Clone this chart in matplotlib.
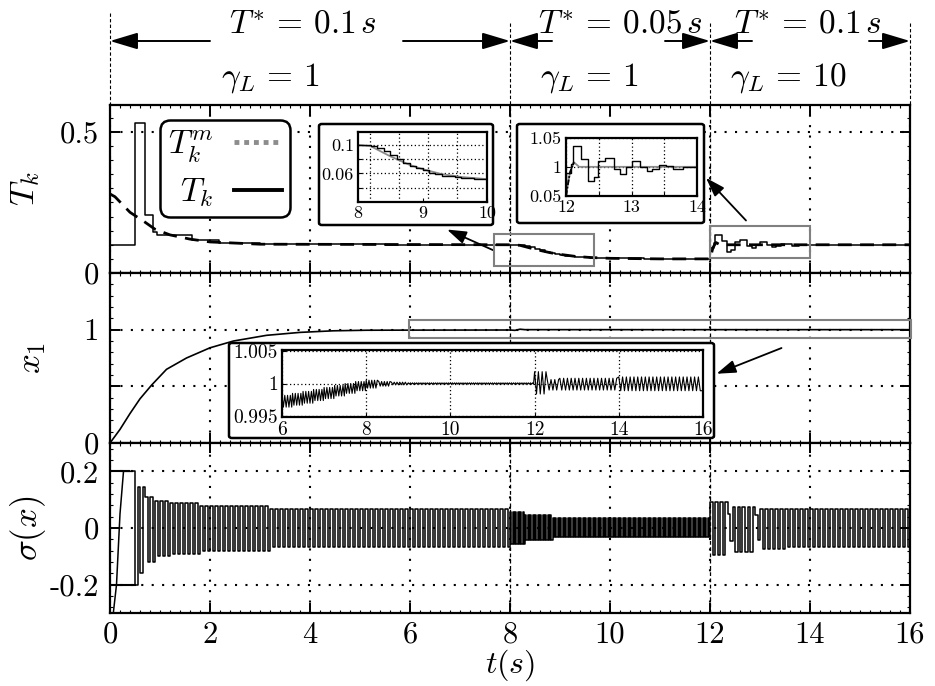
import numpy as np
import matplotlib.pyplot as plt
from matplotlib.lines import Line2D
from matplotlib.patches import FancyBboxPatch, Rectangle
from matplotlib.transforms import blended_transform_factory
from matplotlib.ticker import AutoMinorLocator

plt.rcParams['mathtext.fontset'] = 'cm'
plt.rcParams['font.family'] = 'serif'
plt.rcParams['font.serif'] = ['cmr10', 'DejaVu Serif']
plt.rcParams['axes.unicode_minus'] = False

# ---- data ----
# T_k (held samples) and T_k^m (model)
Tk_t = [0.0, 0.5, 0.7, 0.85, 0.93, 1.63, 2.17, 3.0, 5.5, 8.2, 8.3, 8.4, 8.5, 8.6, 8.7,
        8.8, 8.9, 9.0, 9.1, 9.2, 9.3, 9.4, 9.5, 9.6, 9.7, 9.8, 9.9, 10.0, 10.67,
        12.0, 12.07, 12.1, 12.23, 12.33, 12.42, 12.49, 12.6, 12.73, 12.83, 12.92,
        13.0, 13.13, 13.23, 13.32, 13.42, 13.52, 13.63, 13.78, 13.95, 16.0]
Tk_v = [0.1, 0.53, 0.205, 0.146, 0.134, 0.116, 0.107, 0.102, 0.1, 0.098, 0.096, 0.092,
        0.086, 0.08, 0.075, 0.071, 0.068, 0.065, 0.061, 0.059, 0.057, 0.056, 0.055,
        0.054, 0.053, 0.0526, 0.052, 0.0516, 0.05,
        0.0885, 0.1057, 0.1356, 0.1144, 0.0759, 0.0828, 0.110, 0.1155, 0.0954, 0.0868,
        0.1, 0.110, 0.1, 0.093, 0.097, 0.104, 0.101, 0.097, 0.1, 0.1, 0.1]
Tkm_t = [0.0, 0.1, 0.4, 0.7, 0.9, 1.2, 1.6, 2.0, 3.0, 8.0, 8.2, 8.5, 8.8, 9.0, 9.3,
         9.6, 10.0, 11.0, 12.0, 12.06, 12.12, 12.2, 16.0]
Tkm_v = [0.28, 0.27, 0.215, 0.18, 0.155, 0.135, 0.12, 0.11, 0.102, 0.1, 0.098, 0.084,
         0.072, 0.066, 0.059, 0.055, 0.052, 0.05, 0.05, 0.09, 0.108, 0.1, 0.1]

# x_1
x1_t = [0.0, 0.2, 0.4, 0.6, 0.83, 1.13, 1.53, 2.0, 2.47, 3.13, 3.8, 4.47, 5.13, 6.0,
        8.0, 8.1, 8.2, 8.3, 16.0]
x1_v = [0.0, 0.12, 0.26, 0.39, 0.51, 0.65, 0.75, 0.84, 0.90, 0.95, 0.976, 0.99, 0.995,
        0.996, 0.997, 0.994, 1.004, 1.0, 1.0]

# x_1 chattering seen in the zoom (segment edges, upper / lower levels, half period)
x1z_edges = [6.0, 6.25, 6.5, 6.75, 7.0, 7.25, 7.5, 7.75, 8.0, 8.3, 8.6, 9.0, 12.0,
             12.3, 12.6, 14.0, 16.0]
x1z_hi = [0.9982, 0.9985, 0.9988, 0.9991, 0.9994, 0.9997, 1.0000, 1.0003, 1.0005,
          1.0003, 1.0002, 1.0001, 1.0018, 1.0006, 1.0008, 1.0010]
x1z_lo = [0.9964, 0.9967, 0.9970, 0.9974, 0.9977, 0.9981, 0.9985, 0.9989, 0.9993,
          0.9996, 0.9998, 0.9999, 0.9984, 0.9990, 0.9990, 0.9989]
x1z_half = [0.033] * 11 + [0.025] + [0.045] * 4

# sigma(x): start transient, saturation holds, then switching band
sig0_t = [0.06, 0.13, 0.2, 0.27, 0.37, 0.45]
sig0_v = [-0.31, -0.2, 0.05, 0.2, 0.2, 0.2]
sig_sat_lv = [0.2, -0.2]
sig_sat_end = [0.37, 0.5]
sig_edges = [0.45, 0.55, 0.7, 0.9, 1.2, 1.8, 3.2, 8.0, 8.3, 8.85, 12.0, 12.35, 12.45,
             12.9, 13.0, 13.5, 16.0]
sig_hi = [0.2, 0.146, 0.11, 0.096, 0.087, 0.078, 0.068, 0.058, 0.046, 0.034, 0.093,
          0.05, 0.075, 0.045, 0.066, 0.066]
sig_lo = [-0.2, -0.16, -0.12, -0.1, -0.09, -0.08, -0.066, -0.056, -0.044, -0.03,
          -0.095, -0.045, -0.084, -0.042, -0.074, -0.066]
sig_half = [0.05] * 7 + [0.025] * 3 + [0.05] * 6

# regions: T*, gamma_L
reg_edges = [0, 8, 12, 16]
reg_T = [r'$T^{*}\,=\,0.1\,s$', r'$T^{*}\,=\,0.05\,s$', r'$T^{*}\,=\,0.1\,s$']
reg_g = [r'$\gamma_L\,=\,1$', r'$\gamma_L\,=\,1$', r'$\gamma_L\,=\,10$']
reg_T_x = [3.86, 10.2, 13.96]
reg_g_x = [3.2, 9.58, 13.56]
arr_tail = [(2.0, 5.86), (8.84, 11.1), (12.84, 15.18)]


def chatter(edges, hi, lo, half):
    tt, yy = [], []
    for k in range(len(hi)):
        n = max(1, int(round((edges[k + 1] - edges[k]) / half[k])))
        for j in range(n):
            tt.append(edges[k] + j * half[k])
            yy.append(hi[k] if j % 2 == 0 else lo[k])
    tt.append(edges[-1])
    yy.append(yy[-1])
    return np.array(tt), np.array(yy)


W, H = 935, 686


def box(x0, y0, x1, y1):
    return [x0 / W, 1 - y1 / H, (x1 - x0) / W, (y1 - y0) / H]


def fy(py):
    return 1 - py / H


fig = plt.figure(figsize=(9.35, 6.86), dpi=100)
ax1 = fig.add_axes(box(110, 105, 910, 273))
ax2 = fig.add_axes(box(110, 273, 910, 443))
ax3 = fig.add_axes(box(110, 443, 910, 613))

grid_kw = dict(color='k', linestyle=(0, (1, 4)), linewidth=1.5)
for ax in (ax1, ax2, ax3):
    ax.set_xlim(0, 16)
    ax.set_xticks(np.arange(0, 17, 2))
    ax.xaxis.set_minor_locator(AutoMinorLocator(10))
    ax.tick_params(which='major', direction='in', length=7, width=1.4, top=True,
                   right=True, labelsize=22, pad=8)
    ax.tick_params(which='minor', direction='in', length=2.5, width=0.8, top=True,
                   right=True)
    ax.grid(True, which='major', **grid_kw)
    for s in ax.spines.values():
        s.set_linewidth(1.6)
    for tv in reg_edges[1:3]:
        ax.axvline(tv, color='k', lw=0.9, dashes=(3, 2), zorder=1)

arr_small = dict(arrowstyle='-|>,head_length=0.9,head_width=0.3', color='k', lw=1.3,
                 mutation_scale=13, shrinkA=0, shrinkB=0)

# ---- panel 1 ----
ax1.plot(Tkm_t, Tkm_v, color='k', lw=2.0, dashes=(5, 3))
ax1.plot(Tk_t, Tk_v, color='k', lw=1.1, drawstyle='steps-post')
ax1.set_ylim(0, 0.595)
ax1.set_yticks([0, 0.5])
ax1.set_yticklabels(['0', '0.5'])
ax1.yaxis.set_minor_locator(AutoMinorLocator(10))
ax1.set_xticklabels([])
ax1.set_ylabel(r'$T_k$', fontsize=25)
ax1.yaxis.set_label_coords(-0.085, 0.5)
ax1.add_patch(Rectangle((7.68, 0.025), 2.0, 0.112, fill=False, ec='0.5', lw=1.5, zorder=4))
ax1.add_patch(Rectangle((12.0, 0.054), 2.0, 0.113, fill=False, ec='0.5', lw=1.5, zorder=4))
ax1.annotate('', xy=(6.74, 0.154), xytext=(7.66, 0.081), arrowprops=arr_small)
ax1.annotate('', xy=(11.92, 0.337), xytext=(12.72, 0.186), annotation_clip=False,
             arrowprops=arr_small)

leg_h = [Line2D([], [], color='0.55', lw=3.5, dashes=(1, 1)),
         Line2D([], [], color='k', lw=2.8)]
leg = ax1.legend(leg_h, [r'$T_k^m$', r'$T_k$'], loc='upper left',
                 bbox_to_anchor=(160 / W, fy(120)), bbox_transform=fig.transFigure,
                 borderaxespad=0, markerfirst=False, fontsize=24, handlelength=1.45,
                 handletextpad=0.6, labelspacing=0.35, borderpad=0.25, fancybox=True,
                 framealpha=1, edgecolor='k')
leg.get_frame().set_linewidth(1.8)
leg.get_frame().set_boxstyle('round,pad=0,rounding_size=0.3')

# ---- panel 2 ----
ax2.plot(x1_t, x1_v, color='k', lw=1.2)
ax2.set_ylim(0, 1.5)
ax2.set_yticks([0, 0.5, 1])
ax2.set_yticklabels(['0', '', '1'])
ax2.yaxis.set_minor_locator(AutoMinorLocator(5))
ax2.set_xticklabels([])
ax2.set_ylabel(r'$x_1$', fontsize=25)
ax2.yaxis.set_label_coords(-0.078, 0.5)
ax2.add_patch(Rectangle((5.97, 0.925), 10.05, 0.16, fill=False, ec='0.5', lw=1.5,
                        zorder=4, clip_on=False))
ax2.annotate('', xy=(12.13, 0.611), xytext=(13.43, 0.838), arrowprops=arr_small)

# ---- panel 3 ----
st, sv = chatter(sig_edges, sig_hi, sig_lo, sig_half)
ax3.plot(st, sv, color='k', lw=1.1, drawstyle='steps-post')
ax3.plot(sig0_t, sig0_v, color='k', lw=1.1)
for lv, te in zip(sig_sat_lv, sig_sat_end):
    ax3.plot([0, te], [lv, lv], color='k', lw=1.5, zorder=3)
ax3.set_ylim(-0.3, 0.3)
ax3.set_yticks([-0.2, 0, 0.2])
ax3.set_yticklabels(['-0.2', '0', '0.2'])
ax3.yaxis.set_minor_locator(AutoMinorLocator(5))
ax3.set_xticklabels([str(v) for v in range(0, 17, 2)])
ax3.tick_params(axis='x', which='major', pad=6)
ax3.set_ylabel(r'$\sigma(x)$', fontsize=25)
ax3.yaxis.set_label_coords(-0.078, 0.5)
ax3.set_xlabel(r'$t(s)$', fontsize=23, labelpad=-1)

# ---- top annotations ----
trans = blended_transform_factory(ax1.transData, fig.transFigure)
for i, tv in enumerate(reg_edges):
    top = 13 if i == 0 else 23
    fig.add_artist(Line2D([tv, tv], [fy(top), fy(105)], transform=trans, color='k',
                          lw=0.8, dashes=(3, 2)))
yA = fy(41)
for i in range(3):
    for tail, head in ((arr_tail[i][0], reg_edges[i]), (arr_tail[i][1], reg_edges[i + 1])):
        ax1.annotate('', xy=(head, yA), xytext=(tail, yA),
                     xycoords=('data', 'figure fraction'),
                     textcoords=('data', 'figure fraction'), annotation_clip=False,
                     arrowprops=dict(arrowstyle='-|>,head_length=1.0,head_width=0.3',
                                     color='k', lw=1.4, mutation_scale=17,
                                     shrinkA=0, shrinkB=0))
    ax1.text(reg_T_x[i], fy(25), reg_T[i], transform=trans, ha='center', va='center',
             fontsize=24)
    ax1.text(reg_g_x[i], fy(78), reg_g[i], transform=trans, ha='center', va='center',
             fontsize=24)

# ---- inset frames ----
for (x0, y0, x1, y1) in [(319, 124, 493, 225), (517, 124, 704, 223), (229, 343, 714, 438)]:
    fig.add_artist(FancyBboxPatch((x0 / W, fy(y1)), (x1 - x0) / W, (y1 - y0) / H,
                                  boxstyle='round,pad=0,rounding_size=0.003',
                                  transform=fig.transFigure, fc='w', ec='k', lw=1.8,
                                  zorder=1))

in_grid = dict(color='k', linestyle=(0, (1, 2)), linewidth=0.9)


def style_inset(ax, size):
    ax.set_zorder(3)
    ax.tick_params(which='both', direction='in', length=3, labelsize=size, pad=3)
    for s in ax.spines.values():
        s.set_linewidth(1.6)


in1 = fig.add_axes(box(358, 132, 487, 202))
style_inset(in1, 13)
in1.plot(Tkm_t, Tkm_v, color='0.55', lw=1.3)
in1.plot(Tk_t, Tk_v, color='k', lw=1.0, drawstyle='steps-post')
in1.set_xlim(8, 10)
in1.set_ylim(0.02, 0.118)
in1.set_xticks([8, 9, 10])
in1.set_xticks([8.19, 8.64, 9.09, 9.54], minor=True)
in1.tick_params(which='minor', length=0)
in1.set_yticks([0.04, 0.06, 0.08, 0.1])
in1.set_yticklabels(['', '0.06', '', '0.1'])
in1.grid(True, which='minor', axis='x', **in_grid)
in1.grid(True, which='major', axis='y', **in_grid)

in2 = fig.add_axes(box(566, 138, 697, 196))
style_inset(in2, 13)
in2.plot(Tkm_t, Tkm_v, color='0.55', lw=1.3)
in2.plot(Tkm_t[18:21], Tkm_v[18:21], color='k', lw=1.3, dashes=(3, 1, 1, 1))
in2.plot(Tk_t, Tk_v, color='k', lw=1.0, drawstyle='steps-post')
in2.set_xlim(12, 14)
in2.set_ylim(0.0494, 0.15)
in2.set_xticks([12, 12.5, 13, 13.5, 14])
in2.set_xticklabels(['12', '', '13', '', '14'])
in2.set_yticks([0.05, 0.1, 0.15])
in2.set_yticklabels(['0.05', '1', '1.05'])
in2.grid(True, **in_grid)

in3 = fig.add_axes(box(282, 350, 703, 417))
style_inset(in3, 14)
zt, zv = chatter(x1z_edges, x1z_hi, x1z_lo, x1z_half)
in3.plot(zt, zv, color='k', lw=0.8)
in3.set_xlim(6, 16)
in3.set_ylim(0.9949, 1.0051)
in3.set_xticks(np.arange(6, 17, 2))
in3.set_yticks([0.995, 1.0, 1.005])
in3.set_yticklabels(['0.995', '1', '1.005'])
in3.grid(True, **in_grid)

fig.savefig('out.png', dpi=100)
